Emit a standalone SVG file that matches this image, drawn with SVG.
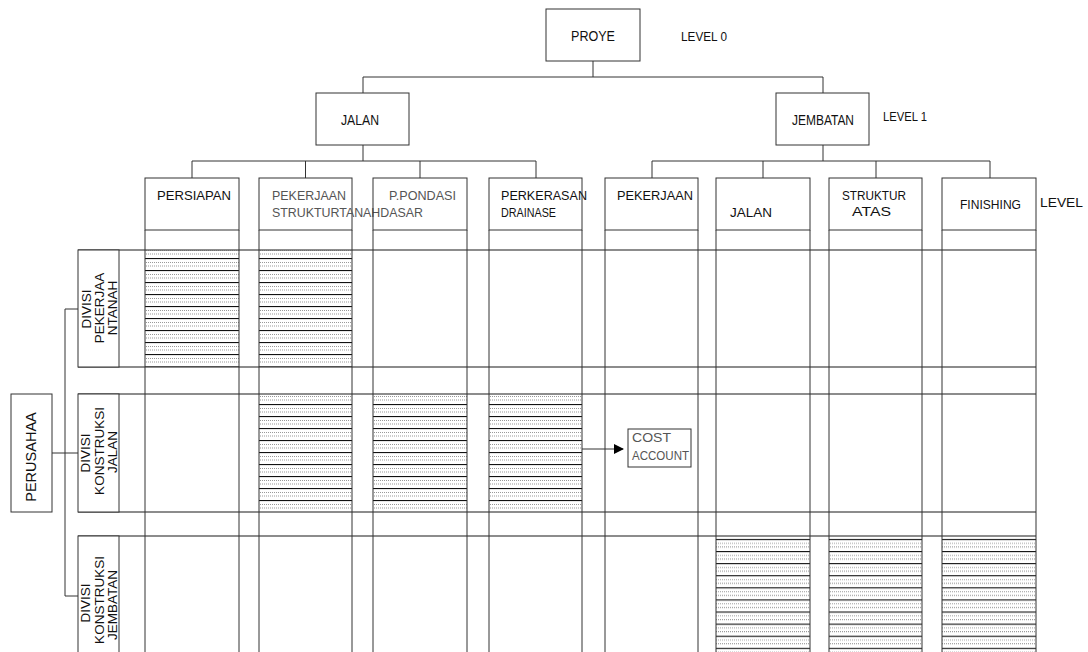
<svg xmlns="http://www.w3.org/2000/svg" width="1088" height="652" viewBox="0 0 1088 652">
<style>
text{font-family:"Liberation Sans",Arial,sans-serif;font-size:13px;fill:#111}
.g{fill:#555}
.box{fill:#fff;stroke:#333;stroke-width:1}
.ln{stroke:#333;stroke-width:1;fill:none}
.grid{stroke:#666;stroke-width:1.5;fill:none}
.rot{font-size:13.5px}
.big{font-size:14px}
</style>
<defs>
<pattern id="h1" patternUnits="userSpaceOnUse" x="0" y="258" width="8" height="12">
<rect width="8" height="12" fill="#fff"/>
<line x1="0" y1="0.5" x2="8" y2="0.5" stroke="#111" stroke-width="1.2"/>
<line x1="0" y1="4.5" x2="8" y2="4.5" stroke="#999" stroke-width="1" stroke-dasharray="1 1"/>
<line x1="0" y1="8" x2="8" y2="8" stroke="#999" stroke-width="1" stroke-dasharray="1 1"/>
</pattern>
<pattern id="h2" patternUnits="userSpaceOnUse" x="0" y="404" width="8" height="12">
<rect width="8" height="12" fill="#fff"/>
<line x1="0" y1="0.5" x2="8" y2="0.5" stroke="#111" stroke-width="1.2"/>
<line x1="0" y1="4.5" x2="8" y2="4.5" stroke="#999" stroke-width="1" stroke-dasharray="1 1"/>
<line x1="0" y1="8" x2="8" y2="8" stroke="#999" stroke-width="1" stroke-dasharray="1 1"/>
</pattern>
<pattern id="h3" patternUnits="userSpaceOnUse" x="0" y="551" width="8" height="12.1">
<rect width="8" height="12.1" fill="#fff"/>
<line x1="0" y1="0.5" x2="8" y2="0.5" stroke="#111" stroke-width="1.2"/>
<line x1="0" y1="4.5" x2="8" y2="4.5" stroke="#999" stroke-width="1" stroke-dasharray="1 1"/>
<line x1="0" y1="8" x2="8" y2="8" stroke="#999" stroke-width="1" stroke-dasharray="1 1"/>
</pattern>
<marker id="arr" markerWidth="10" markerHeight="10" refX="9" refY="5" orient="auto" markerUnits="userSpaceOnUse">
<path d="M0,0 L10,5 L0,10 Z" fill="#000"/>
</marker>
</defs>
<rect width="1088" height="652" fill="#fff"/>

<g id="hatch">
<rect x="145" y="250" width="94" height="117" fill="url(#h1)"/>
<rect x="259" y="250" width="93" height="117" fill="url(#h1)"/>
<rect x="259" y="394" width="93" height="118" fill="url(#h2)"/>
<rect x="373" y="394" width="94" height="118" fill="url(#h2)"/>
<rect x="489" y="394" width="93" height="118" fill="url(#h2)"/>
<rect x="716" y="536" width="94" height="116" fill="url(#h3)"/>
<rect x="829" y="536" width="93" height="116" fill="url(#h3)"/>
<rect x="942" y="536" width="94" height="116" fill="url(#h3)"/>
</g>

<g id="grid">
<line class="grid" x1="78" y1="250" x2="1036" y2="250"/>
<line class="grid" x1="78" y1="367" x2="1036" y2="367"/>
<line class="grid" x1="78" y1="394" x2="1036" y2="394"/>
<line class="grid" x1="78" y1="512" x2="1036" y2="512"/>
<line class="grid" x1="78" y1="536" x2="1036" y2="536"/>
<path class="ln" d="M145,230V652M239,230V652M259,230V652M352,230V652M373,230V652M467,230V652M489,230V652M582,230V652M605,230V652M698,230V652M716,230V652M810,230V652M829,230V652M922,230V652M942,230V652M1036,230V652"/>
</g>

<g id="connectors">
<path class="ln" d="M593,61V77M363,77H823M363,77V93M823,77V93"/>
<path class="ln" d="M363,145V161M192,161H536M192,161V178M305.5,161V178M420,161V178M536,161V178"/>
<path class="ln" d="M823,145V161M652,161H990M652,161V178M763,161V178M876,161V178M990,161V178"/>
<path class="ln" d="M52,453H65M65,309V596M65,309H78M65,453H78M65,596H78"/>
<line class="ln" x1="582" y1="449" x2="623" y2="449" marker-end="url(#arr)"/>
</g>

<g id="proye"><rect class="box" x="546" y="9" width="94" height="52"/><text class="big" x="571" y="41" textLength="44" lengthAdjust="spacingAndGlyphs">PROYE</text></g>
<text id="level0" x="681" y="41" textLength="46" lengthAdjust="spacingAndGlyphs">LEVEL 0</text>
<g id="jalan"><rect class="box" x="316" y="93" width="93" height="52"/><text class="big" x="341" y="125" textLength="38" lengthAdjust="spacingAndGlyphs">JALAN</text></g>
<g id="jembatan"><rect class="box" x="776" y="93" width="93" height="52"/><text class="big" x="792" y="125" textLength="62" lengthAdjust="spacingAndGlyphs">JEMBATAN</text></g>
<text id="level1" x="883" y="121" textLength="44" lengthAdjust="spacingAndGlyphs">LEVEL 1</text>

<g id="persiapan"><rect class="box" x="145" y="178" width="94" height="52"/><text x="157" y="200" textLength="74" lengthAdjust="spacingAndGlyphs">PERSIAPAN</text></g>
<g id="pekerjaan1"><rect class="box" x="259" y="178" width="93" height="52"/><text class="g" x="272" y="200" textLength="74" lengthAdjust="spacingAndGlyphs">PEKERJAAN</text><text class="g" x="272" y="217" textLength="151" lengthAdjust="spacingAndGlyphs">STRUKTURTANAHDASAR</text></g>
<g id="pondasi"><rect class="box" x="373" y="178" width="94" height="52" style="fill:none"/><text class="g" x="389" y="200" textLength="67" lengthAdjust="spacingAndGlyphs">P.PONDASI</text></g>
<g id="perkerasan"><rect class="box" x="489" y="178" width="93" height="52"/><text x="501" y="200" textLength="86" lengthAdjust="spacingAndGlyphs">PERKERASAN</text><text x="501" y="217" textLength="55" lengthAdjust="spacingAndGlyphs">DRAINASE</text></g>
<g id="pekerjaan2"><rect class="box" x="605" y="178" width="93" height="52"/><text x="617" y="200" textLength="76" lengthAdjust="spacingAndGlyphs">PEKERJAAN</text></g>
<g id="jalan2"><rect class="box" x="716" y="178" width="94" height="52"/><text x="730" y="217" textLength="42" lengthAdjust="spacingAndGlyphs">JALAN</text></g>
<g id="struktur"><rect class="box" x="829" y="178" width="93" height="52"/><text x="842" y="200" textLength="64" lengthAdjust="spacingAndGlyphs">STRUKTUR</text><text x="852" y="216" textLength="39" lengthAdjust="spacingAndGlyphs">ATAS</text></g>
<g id="finishing"><rect class="box" x="942" y="178" width="94" height="52"/><text x="960" y="209" textLength="61" lengthAdjust="spacingAndGlyphs">FINISHING</text></g>
<text id="level2" x="1040" y="207" textLength="43" lengthAdjust="spacingAndGlyphs">LEVEL</text>

<g id="perusahaa"><rect class="box" x="11" y="394" width="41" height="118"/><text style="font-size:14.5px" text-anchor="middle" transform="translate(36,457) rotate(-90)">PERUSAHAA</text></g>
<g id="div1"><rect class="box" x="78" y="250" width="41" height="117"/>
<text class="rot" text-anchor="middle" transform="translate(91,309) rotate(-90)">DIVISI</text>
<text class="rot" text-anchor="middle" transform="translate(104,308) rotate(-90)">PEKERJAA</text>
<text class="rot" text-anchor="middle" transform="translate(117,308) rotate(-90)">NTANAH</text></g>
<g id="div2"><rect class="box" x="78" y="394" width="41" height="118"/>
<text class="rot" text-anchor="middle" transform="translate(90,453) rotate(-90)">DIVISI</text>
<text class="rot" text-anchor="middle" transform="translate(104,451) rotate(-90)">KONSTRUKSI</text>
<text class="rot" text-anchor="middle" transform="translate(117,452) rotate(-90)">JALAN</text></g>
<g id="div3"><rect class="box" x="78" y="536" width="41" height="120"/>
<text class="rot" text-anchor="middle" transform="translate(90,603) rotate(-90)">DIVISI</text>
<text class="rot" text-anchor="middle" transform="translate(104,600) rotate(-90)">KONSTRUKSI</text>
<text class="rot" text-anchor="middle" transform="translate(117,605) rotate(-90)">JEMBATAN</text></g>

<g id="cost"><rect class="box" x="628" y="429" width="63" height="38"/><text class="g" x="632" y="442" textLength="39" lengthAdjust="spacingAndGlyphs">COST</text><text class="g" x="632" y="460" textLength="57" lengthAdjust="spacingAndGlyphs">ACCOUNT</text></g>
</svg>
